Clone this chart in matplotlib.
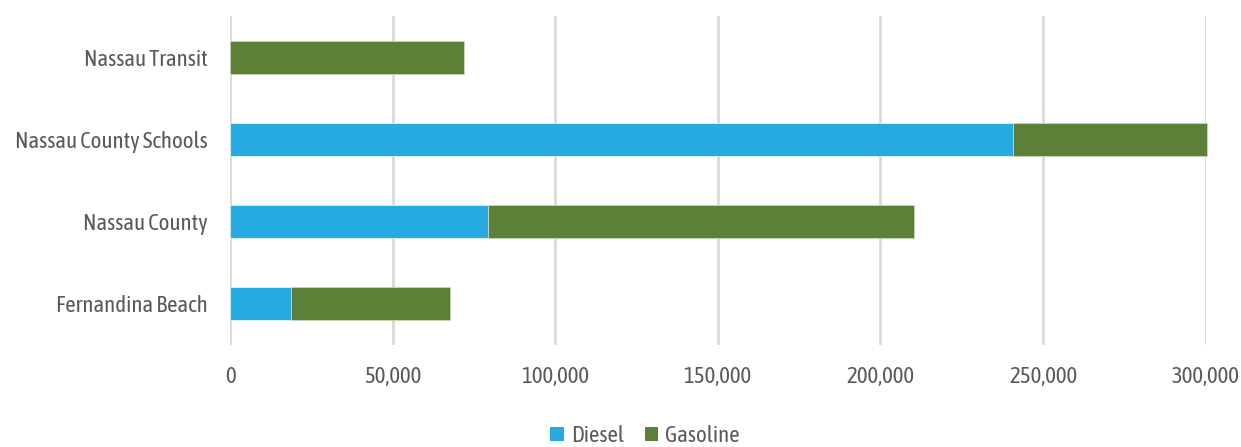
import matplotlib
matplotlib.use("Agg")
import matplotlib.pyplot as plt
from matplotlib.ticker import FuncFormatter
from matplotlib.patches import Patch
from matplotlib import font_manager as fm

def _w(f):
    w = f.weight
    if isinstance(w, str):
        return {'light': 300, 'normal': 400, 'regular': 400, 'book': 400}.get(w, 700)
    return w

light = {f.name for f in fm.fontManager.ttflist if _w(f) <= 400}
prefs = ['Open Sans Condensed', 'Asap Condensed', 'Fira Sans Condensed', 'Encode Sans Condensed',
         'Roboto Condensed', 'PT Sans Narrow', 'Barlow Semi Condensed', 'Archivo Narrow']
fam = [p for p in prefs if p in light][:1] + ['DejaVu Sans']
plt.rcParams['font.family'] = fam
plt.rcParams['font.weight'] = 'normal'

categories = ["Fernandina Beach", "Nassau County", "Nassau County Schools", "Nassau Transit"]
diesel = [18900, 79300, 240900, 0]
gasoline = [48800, 131100, 59500, 71900]
xticks = [0, 50000, 100000, 150000, 200000, 250000, 300000]

c_diesel = "#26AAE1"
c_gas = "#5D8038"
txt = "#595959"

fig = plt.figure(figsize=(12.41, 4.47), dpi=100)
ax = fig.add_axes([230/1241, 1-345/447, (1205.5-230)/1241, (345-16)/447])

y = list(range(len(categories)))
ax.barh(y, diesel, height=0.4, color=c_diesel, edgecolor="#dff1fa", linewidth=0.6, zorder=3, clip_on=False)
ax.barh(y, gasoline, left=diesel, height=0.4, color=c_gas, edgecolor="#c9d6bb", linewidth=0.6, zorder=3, clip_on=False)

ax.set_xlim(0, 300000)
ax.set_ylim(-0.5, len(categories) - 0.5)
ax.set_xticks(xticks)
ax.xaxis.set_major_formatter(FuncFormatter(lambda v, p: f"{int(v):,}"))
ax.set_yticks(y)
ax.set_yticklabels(categories)
ax.grid(axis='x', color="#d9d9d9", linewidth=2, zorder=0)
for s in ax.spines.values():
    s.set_visible(False)
ax.tick_params(axis='both', length=0, labelsize=16.5, labelcolor=txt)
ax.tick_params(axis='x', pad=15)
ax.tick_params(axis='y', pad=16)

handles = [Patch(facecolor=c_diesel, label="Diesel"), Patch(facecolor=c_gas, label="Gasoline")]
fig.legend(handles=handles, loc='center', bbox_to_anchor=(645/1241, 1-436/447), ncol=2,
           frameon=False, fontsize=16.5, labelcolor=txt, handlelength=0.6, handleheight=0.6,
           handletextpad=0.3, columnspacing=0.9)

fig.savefig("out.png", dpi=100)
